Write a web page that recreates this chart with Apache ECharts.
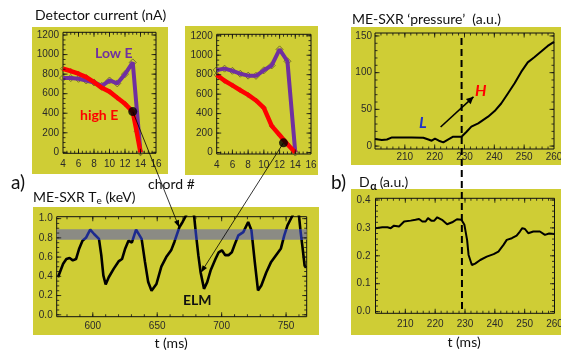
<!DOCTYPE html>
<html>
<head>
<meta charset="utf-8">
<script src="https://cdn.jsdelivr.net/npm/echarts@6/dist/echarts.min.js"></script>
<style>
  html, body { margin: 0; padding: 0; background: #fff; }
  #chart { width: 561px; height: 351px; }
</style>
</head>
<body>
<div id="chart"></div>
<script>
// detector current per chord, two time slices
const chords = [4, 5, 6, 7, 8, 9, 10, 11, 12, 13, 14];
const lowE1 = [760, 760, 752, 735, 715, 680, 735, 705, 800, 920, 0];
const highE1Chord = [4, 5, 6, 7, 8, 9, 10, 11, 12, 13, 13.5, 14];
const highE1 = [855, 832, 804, 770, 718, 660, 621, 558, 496, 417, 215, 0];
const lowE2 = [848, 862, 840, 810, 790, 788, 845, 895, 1060, 938, 0];
const highE2 = [798, 737, 690, 640, 592, 535, 458, 274, 180, 86, 0];
const chordDot1 = [13, 417];
const chordDot2 = [12.5, 100];

// ME-SXR Te (keV) vs t (ms)
const teTime = [573, 577, 579.5, 582, 584.5, 587, 589.5, 592, 594.7, 598, 601, 604.8, 606.6, 608.2, 610,
  612.4, 616.3, 620, 622.7, 625.2, 627.7, 630.3, 633.6, 637.9, 640.5, 643, 645.6, 649.4, 653.2, 657,
  660.8, 663.4, 667.2, 669.7, 672.3, 675.5, 678.6, 679.9, 681.9, 683.7, 686.3, 688.8, 691.4, 695.2,
  697.7, 700.2, 702.8, 705.3, 707.9, 710.4, 713, 716.8, 720.6, 723.1, 725.7, 728.2, 730.8, 734.6,
  738.4, 742.2, 746, 748.6, 751.1, 754.9, 757.5, 760, 761.3, 762.6, 764.4, 765.5];
const teValue = [0.39, 0.53, 0.58, 0.59, 0.566, 0.58, 0.69, 0.77, 0.80, 0.885, 0.84, 0.79, 0.62, 0.41, 0.315,
  0.39, 0.48, 0.555, 0.58, 0.69, 0.77, 0.75, 0.885, 0.79, 0.55, 0.34, 0.25, 0.32, 0.50, 0.60,
  0.67, 0.76, 0.91, 0.965, 1.03, 1.15, 1.03, 0.86, 0.62, 0.44, 0.27, 0.34, 0.46, 0.58,
  0.65, 0.67, 0.62, 0.62, 0.65, 0.74, 0.826, 0.86, 0.965, 0.88, 0.55, 0.253, 0.305, 0.44,
  0.55, 0.62, 0.69, 0.826, 0.93, 1.03, 1.12, 1.03, 0.86, 0.72, 0.51, 0.49];
const teBand = [0.78, 0.89];
const teArrowTip1 = [667, 0.91];
const teArrowTip2 = [684, 0.44];

// ME-SXR 'pressure' (a.u.)
const pressTime = [200, 202.3, 204, 205.7, 209, 212.3, 216.2, 217.9, 219, 220.1, 221.4, 222.9, 224.6, 226.2,
  229, 230.7, 232.3, 234.6, 237.9, 240.1, 242.3, 244.6, 246.8, 249, 251.2, 253.4, 255.7, 257.9, 260];
const pressValue = [9.5, 8.2, 9, 11.8, 11.8, 11.8, 11.4, 9, 7.3, 10, 7.3, 5, 9, 12.7,
  12.7, 19.5, 26.4, 31, 40, 47.7, 58, 72, 85.5, 101, 114, 121, 128.7, 136.4, 142];

// D-alpha (a.u.)
const daTime = [200, 202.3, 204, 205.1, 206.2, 207.9, 209.6, 211.8, 213.4, 214.6, 215.7, 216.8, 217.6, 218.7,
  219.7, 220.7, 222.3, 224, 225.7, 227.3, 228.8, 229.8, 230.7, 231.2, 232.3, 233.4, 235.1, 237.3,
  239.6, 241.2, 242.9, 244, 245.7, 247.3, 248.4, 249.2, 250.1, 251.2, 252.9, 255.1, 256.8, 258.2, 260];
const daValue = [0.299, 0.302, 0.302, 0.299, 0.308, 0.305, 0.323, 0.326, 0.329, 0.332, 0.323, 0.323, 0.335, 0.326,
  0.326, 0.338, 0.329, 0.313, 0.32, 0.331, 0.329, 0.311, 0.257, 0.203, 0.167, 0.172, 0.185, 0.197,
  0.206, 0.215, 0.239, 0.257, 0.263, 0.272, 0.287, 0.299, 0.296, 0.281, 0.287, 0.287, 0.275, 0.28, 0.278];

const lhTime = 229;
const lhArrow = [[222, 26], [233, 67]];

// tick labels
const chordTicks = [4, 6, 8, 10, 12, 14, 16];
const currentTicks = [0, 200, 400, 600, 800, 1000, 1200];
const shotTimeTicks = [210, 220, 230, 240, 250, 260];
const pressTicks = [0, 50, 100, 150];
const teTimeTicks = [600, 650, 700, 750];
const teTicks = [0, 0.2, 0.4, 0.6, 0.8, 1.0];
const daTicks = [0, 0.1, 0.2, 0.3, 0.4];

const YELLOW = '#cfcd35';
const PURPLE = '#7030a0';
const TEXT_FONT = 'Lato, "Open Sans", sans-serif';
const TICK_FONT = '"Liberation Sans", Arial, sans-serif';

const chart = echarts.init(document.getElementById('chart'));
const grids = [], xAxes = [], yAxes = [], series = [];

function minorTicks(range, step) {
  const out = [];
  for (let v = Math.ceil(range[0] / step) * step; v <= range[1] + 1e-9; v += step) out.push(+v.toFixed(6));
  return out;
}

function axis(gi, range, position, ticks, margin, formatter) {
  return {
    gridIndex: gi, type: 'value', min: range[0], max: range[1], position,
    axisLine: { show: false }, splitLine: { show: false }, axisTick: { show: false },
    axisLabel: { show: true, customValues: ticks, fontSize: 10, color: '#2a2a2a', fontFamily: TICK_FONT,
      margin, formatter: formatter || (v => String(v)) }
  };
}

// inward IDL-style ticks on all four sides, drawn as thin rect symbols at axis values
function tickSeries(ref, p) {
  const x0 = p.x[0], x1 = p.x[1], y0 = p.y[0], y1 = p.y[1];
  const data = [];
  const addX = (vals, len) => vals.forEach(v => {
    if (v <= x0 || v >= x1) return;
    data.push({ value: [v, y0], symbolSize: [1, len], symbolOffset: [0, -len / 2] });
    data.push({ value: [v, y1], symbolSize: [1, len], symbolOffset: [0, len / 2] });
  });
  const addY = (vals, len) => vals.forEach(v => {
    if (v <= y0 || v >= y1) return;
    data.push({ value: [x0, v], symbolSize: [len, 1], symbolOffset: [len / 2, 0] });
    data.push({ value: [x1, v], symbolSize: [len, 1], symbolOffset: [-len / 2, 0] });
  });
  addX(p.xTicks, 4.5); addX(minorTicks(p.x, p.xMinor), 2.5);
  addY(p.yTicks, 4.5); addY(minorTicks(p.y, p.yMinor), 2.5);
  return Object.assign({ type: 'scatter', symbol: 'rect', silent: true, clip: false, z: 6,
    itemStyle: { color: '#111' }, data }, ref);
}

function addPanel(p) {
  const gi = grids.length;
  grids.push(Object.assign({ show: true, borderColor: '#111', borderWidth: 1, backgroundColor: 'transparent',
    outerBoundsMode: 'none', containLabel: false }, p.box));
  const ref = { xAxisIndex: xAxes.length, yAxisIndex: yAxes.length };
  xAxes.push(axis(gi, p.x, 'bottom', p.xTicks, p.xMargin, p.xFmt));
  yAxes.push(axis(gi, p.y, 'left', p.yTicks, p.yMargin, p.yFmt));
  series.push(tickSeries(ref, p));
  return ref;
}

const oneDec = v => v.toFixed(1);

const p1 = addPanel({ box: { left: 63, top: 32.3, width: 93, height: 121 }, x: [4, 16], y: [-10, 1228],
  xTicks: chordTicks, yTicks: currentTicks, xMinor: 0.5, yMinor: 50, xMargin: 6, yMargin: 4 });
const p2 = addPanel({ box: { left: 216.7, top: 34.3, width: 94.3, height: 119.7 }, x: [4, 16], y: [-15, 1215],
  xTicks: chordTicks, yTicks: currentTicks, xMinor: 0.5, yMinor: 50, xMargin: 6, yMargin: 4 });
const p3 = addPanel({ box: { left: 375, top: 33, width: 179, height: 116 }, x: [200, 260], y: [-4, 154],
  xTicks: shotTimeTicks, yTicks: pressTicks, xMinor: 2, yMinor: 10, xMargin: 3, yMargin: 3 });
const p4 = addPanel({ box: { left: 56.7, top: 216.7, width: 250, height: 100 }, x: [572, 766], y: [-0.02, 1.02],
  xTicks: teTimeTicks, yTicks: teTicks, xMinor: 10, yMinor: 0.05, xMargin: 5, yMargin: 4, yFmt: oneDec });
const p5 = addPanel({ box: { left: 375.5, top: 198.3, width: 179, height: 115 }, x: [200, 260], y: [-0.006, 0.406],
  xTicks: shotTimeTicks, yTicks: daTicks, xMinor: 2, yMinor: 0.02, xMargin: 6, yMargin: 5, yFmt: oneDec });

const pairs = (xs, ys) => xs.map((x, i) => [x, ys[i]]);

function chordSeries(p, lowE, highX, highE, dot) {
  const marker = { type: 'scatter', symbol: 'diamond', symbolSize: 7, z: 1, silent: true,
    itemStyle: { color: 'rgba(0,0,0,0)', borderColor: '#5f5a28', borderWidth: 1 } };
  series.push(Object.assign({}, marker, p, { data: pairs(chords, lowE) }));
  series.push(Object.assign({}, marker, p, { symbolSize: 5, data: pairs(highX, highE) }));
  series.push(Object.assign({ type: 'line', symbol: 'none', z: 2, lineStyle: { color: PURPLE, width: 4 },
    data: pairs(chords, lowE) }, p));
  series.push(Object.assign({ type: 'line', symbol: 'none', z: 3, lineStyle: { color: '#ff0000', width: 4.5 },
    data: pairs(highX, highE) }, p));
  series.push(Object.assign({ type: 'scatter', symbolSize: 9, z: 5, itemStyle: { color: '#000' }, data: [dot] }, p));
}
chordSeries(p1, lowE1, highE1Chord, highE1, chordDot1);
chordSeries(p2, lowE2, chords, highE2, chordDot2);

series.push(Object.assign({ type: 'line', symbol: 'none', lineStyle: { color: '#000', width: 2 },
  data: pairs(pressTime, pressValue) }, p3));

const teIndex = series.length;
series.push(Object.assign({ type: 'line', symbol: 'none', lineStyle: { width: 2.6 },
  data: pairs(teTime, teValue),
  markArea: { silent: true, itemStyle: { color: '#8b8b84' },
    data: [[{ yAxis: teBand[0] }, { yAxis: teBand[1] }]] } }, p4));

series.push(Object.assign({ type: 'line', symbol: 'none', lineStyle: { color: '#000', width: 2 },
  data: pairs(daTime, daValue) }, p5));

chart.setOption({
  animation: false,
  backgroundColor: '#fff',
  grid: grids,
  xAxis: xAxes,
  yAxis: yAxes,
  visualMap: [{ type: 'piecewise', show: false, seriesIndex: teIndex, dimension: 1,
    pieces: [{ gte: teBand[0], lte: teBand[1], color: '#1c2a8e' }], outOfRange: { color: '#000' } }],
  series
});

// annotations placed from data coordinates
const px = (p, v) => chart.convertToPixel(p, v);

function arrowHead(a, b, len, half) {
  const dx = b[0] - a[0], dy = b[1] - a[1], d = Math.hypot(dx, dy), ux = dx / d, uy = dy / d;
  const bx = b[0] - ux * len, by = b[1] - uy * len;
  return [[b[0], b[1]], [bx - uy * half, by + ux * half], [bx + uy * half, by - ux * half]];
}

function seg(x1, y1, x2, y2, width) {
  return { type: 'line', z: 100, silent: true, shape: { x1, y1, x2, y2 }, style: { stroke: '#000', lineWidth: width } };
}

function arrow(a, b, width, len, half) {
  return [
    seg(a[0], a[1], b[0], b[1], width),
    { type: 'polygon', z: 100, silent: true, shape: { points: arrowHead(a, b, len, half) }, style: { fill: '#000' } }
  ];
}

function label(text, x, y, font, fill, align) {
  return { type: 'text', z: 100, x, y, silent: true,
    style: { text, font, fill: fill || '#111', align: align || 'left', verticalAlign: 'middle' } };
}

const ctx = document.createElement('canvas').getContext('2d');
const tw = (t, f) => { ctx.font = f; return ctx.measureText(t).width; };

const yellowBoxes = [[32, 27, 136, 147], [185, 26, 133, 149], [351, 27, 210, 138], [33, 207, 286, 128], [351, 189, 210, 146]];
const elements = yellowBoxes.map(b => ({ type: 'rect', z: -10, silent: true,
  shape: { x: b[0], y: b[1], width: b[2], height: b[3] }, style: { fill: YELLOW } }));

// L-H transition marker
const dashTop = px(p3, [lhTime, 150]);
const dashBottom = px(p5, [lhTime, 0]);
elements.push({ type: 'line', z: 90, silent: true,
  shape: { x1: dashTop[0], y1: dashTop[1] + 2, x2: dashBottom[0], y2: dashBottom[1] },
  style: { stroke: '#000', lineWidth: 2, lineDash: [7, 4] } });
elements.push(...arrow(px(p3, lhArrow[0]), px(p3, lhArrow[1]), 1.6, 7, 3.5));

// chord -> Te connectors
elements.push(...arrow(px(p1, chordDot1), px(p4, teArrowTip1), 0.8, 7, 2.6));
elements.push(...arrow(px(p2, chordDot2), px(p4, teArrowTip2), 0.8, 7, 2.6));

const f14 = '14px ' + TEXT_FONT;
elements.push(label('Detector current (nA)', 35, 15, f14));
elements.push(label('ME-SXR \u2018pressure\u2019  (a.u.)', 352, 19, f14));
elements.push(label('a)', 11, 183, '19px ' + TEXT_FONT));
elements.push(label('b)', 331, 183, '19px ' + TEXT_FONT));
elements.push(label('chord #', 148, 184, f14));
elements.push(label('t (ms)', 171, 343, f14, '#111', 'center'));
elements.push(label('t (ms)', 464, 342, f14, '#111', 'center'));

const teX = 33 + tw('ME-SXR T', f14);
elements.push(label('ME-SXR T', 33, 197, f14));
elements.push(label('e', teX, 201, '10px ' + TEXT_FONT));
elements.push(label('(keV)', teX + tw('e ', '10px ' + TEXT_FONT) + 1, 197, f14));

const daX = 359 + tw('D', f14);
elements.push(label('D', 359, 182, f14));
elements.push(label('\u03b1', daX + 0.5, 186, 'bold 11px ' + TEXT_FONT));
elements.push(label('(a.u.)', daX + 10, 182, f14));

elements.push(label('Low E', 95, 53, 'bold 14px ' + TEXT_FONT, PURPLE));
elements.push(label('high E', 80, 115, 'bold 14px ' + TEXT_FONT, '#ff0000'));
elements.push(label('ELM', 183, 300, 'bold 14px ' + TEXT_FONT, '#111'));
elements.push(label('L', 419, 123, 'italic bold 16px ' + TEXT_FONT, '#1f33c8'));
elements.push(label('H', 475, 91, 'italic bold 16px ' + TEXT_FONT, '#ff0000'));

chart.setOption({ graphic: { elements } });
</script>
</body>
</html>
